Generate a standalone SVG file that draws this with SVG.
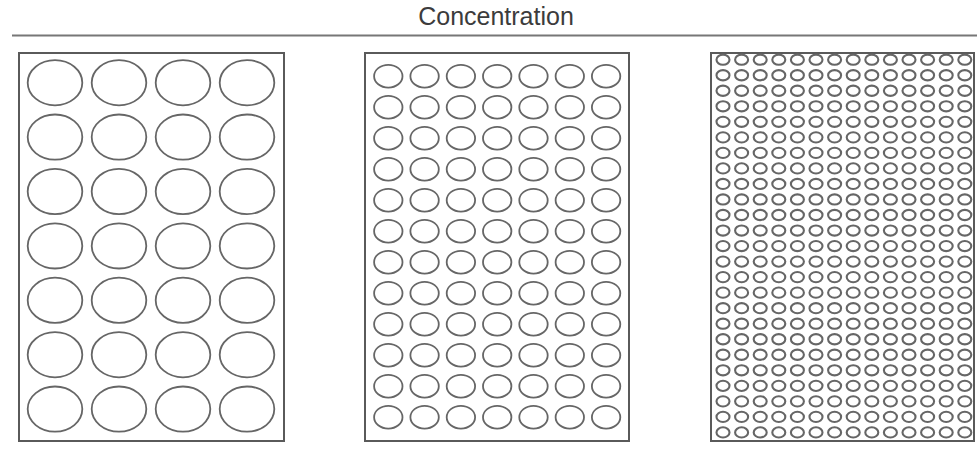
<svg xmlns="http://www.w3.org/2000/svg" width="977" height="471" viewBox="0 0 977 471">
<style>
.box{fill:#fff;stroke:#5a5a5a;stroke-width:2}
.w{fill:none;stroke:#666;stroke-width:1.8}
.ws{fill:none;stroke:#666;stroke-width:2.1}
.title{font-family:"Liberation Sans",Arial,sans-serif;font-size:25px;fill:#3c3c3c}
</style>
<defs>
<g id="rowL" class="w">
<ellipse cx="55" cy="0" rx="27.3" ry="22.6"/>
<ellipse cx="119" cy="0" rx="27.3" ry="22.6"/>
<ellipse cx="183" cy="0" rx="27.3" ry="22.6"/>
<ellipse cx="247" cy="0" rx="27.3" ry="22.6"/>
</g>
<g id="rowM" class="w">
<ellipse cx="388.3" cy="0" rx="14.2" ry="11.4"/>
<ellipse cx="424.6" cy="0" rx="14.2" ry="11.4"/>
<ellipse cx="460.9" cy="0" rx="14.2" ry="11.4"/>
<ellipse cx="497.2" cy="0" rx="14.2" ry="11.4"/>
<ellipse cx="533.5" cy="0" rx="14.2" ry="11.4"/>
<ellipse cx="569.8" cy="0" rx="14.2" ry="11.4"/>
<ellipse cx="606.1" cy="0" rx="14.2" ry="11.4"/>
</g>
<g id="rowR" class="ws">
<ellipse cx="723" cy="0" rx="6.5" ry="5.1"/>
<ellipse cx="741.6" cy="0" rx="6.5" ry="5.1"/>
<ellipse cx="760.2" cy="0" rx="6.5" ry="5.1"/>
<ellipse cx="778.8" cy="0" rx="6.5" ry="5.1"/>
<ellipse cx="797.4" cy="0" rx="6.5" ry="5.1"/>
<ellipse cx="816" cy="0" rx="6.5" ry="5.1"/>
<ellipse cx="834.6" cy="0" rx="6.5" ry="5.1"/>
<ellipse cx="853.2" cy="0" rx="6.5" ry="5.1"/>
<ellipse cx="871.8" cy="0" rx="6.5" ry="5.1"/>
<ellipse cx="890.4" cy="0" rx="6.5" ry="5.1"/>
<ellipse cx="909" cy="0" rx="6.5" ry="5.1"/>
<ellipse cx="927.6" cy="0" rx="6.5" ry="5.1"/>
<ellipse cx="946.2" cy="0" rx="6.5" ry="5.1"/>
<ellipse cx="964.8" cy="0" rx="6.5" ry="5.1"/>
</g>
</defs>
<rect width="977" height="471" fill="#fff"/>
<g id="header">
<text class="title" x="496" y="25" text-anchor="middle">Concentration</text>
<line x1="12" y1="35.5" x2="977" y2="35.5" stroke="#777" stroke-width="2"/>
</g>
<g id="plate-low">
<rect class="box" x="19" y="53" width="265" height="388"/>
<use href="#rowL" y="82.7"/>
<use href="#rowL" y="137.1"/>
<use href="#rowL" y="191.5"/>
<use href="#rowL" y="245.9"/>
<use href="#rowL" y="300.3"/>
<use href="#rowL" y="354.7"/>
<use href="#rowL" y="409.1"/>
</g>
<g id="plate-mid">
<rect class="box" x="365" y="53" width="264" height="388"/>
<use href="#rowM" y="76.2"/>
<use href="#rowM" y="107.2"/>
<use href="#rowM" y="138.2"/>
<use href="#rowM" y="169.2"/>
<use href="#rowM" y="200.2"/>
<use href="#rowM" y="231.2"/>
<use href="#rowM" y="262.2"/>
<use href="#rowM" y="293.2"/>
<use href="#rowM" y="324.2"/>
<use href="#rowM" y="355.2"/>
<use href="#rowM" y="386.2"/>
<use href="#rowM" y="417.2"/>
</g>
<g id="plate-high">
<rect class="box" x="711" y="53" width="263" height="388"/>
<use href="#rowR" y="59.7"/>
<use href="#rowR" y="75.23"/>
<use href="#rowR" y="90.76"/>
<use href="#rowR" y="106.29"/>
<use href="#rowR" y="121.82"/>
<use href="#rowR" y="137.35"/>
<use href="#rowR" y="152.88"/>
<use href="#rowR" y="168.41"/>
<use href="#rowR" y="183.94"/>
<use href="#rowR" y="199.47"/>
<use href="#rowR" y="215"/>
<use href="#rowR" y="230.53"/>
<use href="#rowR" y="246.06"/>
<use href="#rowR" y="261.59"/>
<use href="#rowR" y="277.12"/>
<use href="#rowR" y="292.65"/>
<use href="#rowR" y="308.18"/>
<use href="#rowR" y="323.71"/>
<use href="#rowR" y="339.24"/>
<use href="#rowR" y="354.77"/>
<use href="#rowR" y="370.3"/>
<use href="#rowR" y="385.83"/>
<use href="#rowR" y="401.36"/>
<use href="#rowR" y="416.89"/>
<use href="#rowR" y="432.42"/>
</g>
<g id="connectors"/>
</svg>
